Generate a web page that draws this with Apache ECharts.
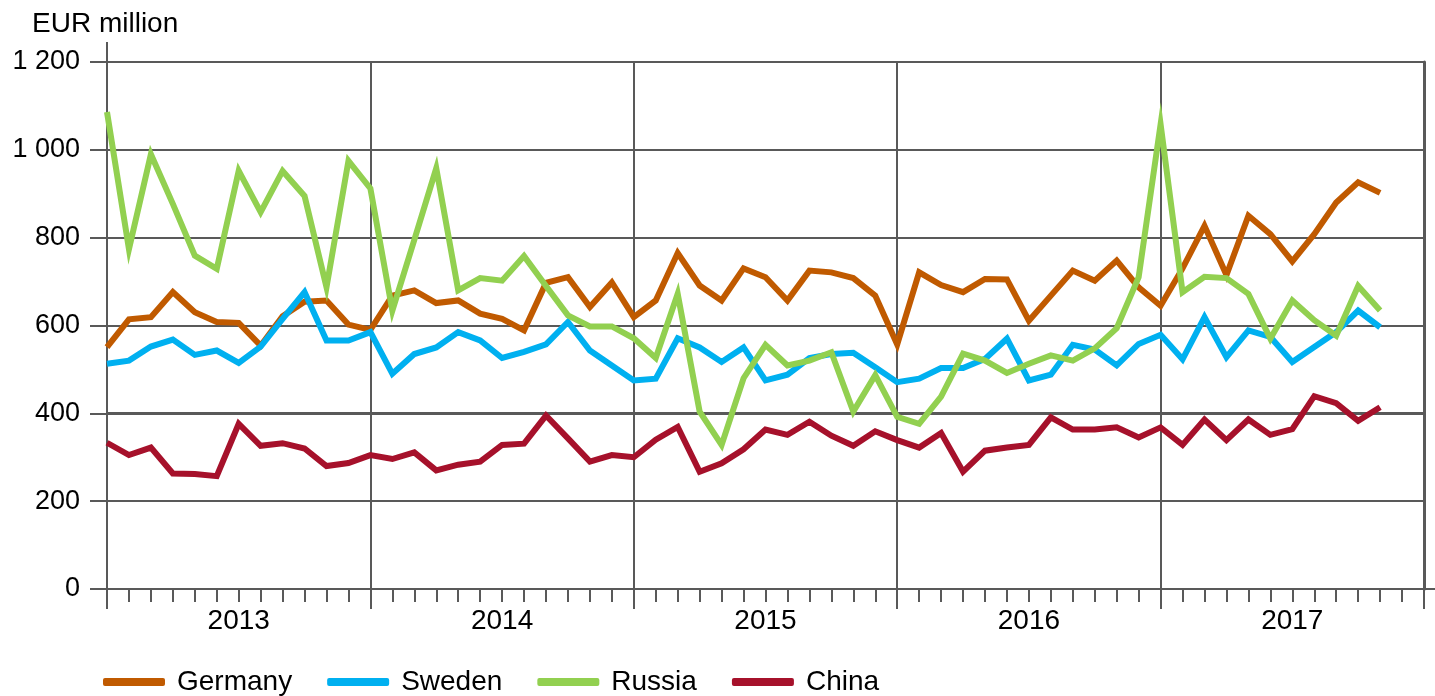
<!DOCTYPE html>
<html>
<head>
<meta charset="utf-8">
<script src="https://cdn.jsdelivr.net/npm/echarts@6/dist/echarts.min.js"></script>
<style>
html,body{margin:0;padding:0;background:#fff;}
#chart{width:1435px;height:696px;}
</style>
</head>
<body>
<div id="chart"></div>
<script>
// Monthly values, Jan 2013 .. Nov 2017 (EUR million)
const years = ['2013', '2014', '2015', '2016', '2017'];
const seriesNames = ['Germany', 'Sweden', 'Russia', 'China'];
const germany = [551,614,619,676,630,608,606,554,621,654,657,602,590,
  668,680,651,657,627,615,589,697,710,642,698,619,657,
  765,691,657,730,710,657,725,721,708,668,557,
  721,692,676,706,705,611,668,725,702,748,687,645,
  730,827,715,850,808,746,808,880,926,902];
const sweden = [513,520,552,568,533,543,515,552,615,676,566,566,585,
  490,535,550,585,566,526,540,557,608,543,509,475,479,
  571,550,517,550,475,488,526,535,538,505,471,
  479,503,503,524,570,475,488,556,545,509,558,579,
  523,619,528,589,574,517,551,585,634,596];
const russia = [1086,774,990,877,759,729,952,858,952,895,687,975,912,
  634,795,958,680,708,702,758,690,623,598,598,571,526,
  672,404,328,480,556,509,520,539,404,487,392,
  376,438,536,520,492,513,532,520,548,594,710,1058,
  676,711,708,672,570,657,612,577,690,634];
const china = [333,305,322,263,262,257,376,326,332,320,280,287,305,
  296,311,270,283,290,328,331,395,343,290,305,300,340,
  369,267,286,318,363,351,381,349,326,359,339,
  322,355,267,315,322,328,391,363,363,368,345,368,
  328,386,339,386,351,364,439,423,383,414];
const yTicks = [0, 200, 400, 600, 800, 1000, 1200];
const colors = ['#c05a00', '#00b0f0', '#92d050', '#a6112b'];

const FONT = '"Liberation Sans", Arial, sans-serif';
const AX = '#595959';
const toPairs = arr => arr.map((v, i) => [i, v]);
const allData = [germany, sweden, russia, china];

const chart = echarts.init(document.getElementById('chart'), null, {renderer: 'canvas'});

const series = seriesNames.map((name, k) => ({
  name: name,
  type: 'line',
  xAxisIndex: 0,
  yAxisIndex: 0,
  data: toPairs(allData[k]),
  showSymbol: false,
  symbol: 'none',
  lineStyle: {color: colors[k], width: 6, join: 'miter'},
  itemStyle: {color: colors[k]},
  z: 3 + k
}));
// thicker 400 gridline
series.push({
  type: 'line', name: '_ref', data: [], xAxisIndex: 0, yAxisIndex: 0, z: 1,
  markLine: {
    silent: true, symbol: 'none', label: {show: false},
    lineStyle: {color: AX, width: 3, type: 'solid'},
    data: [{yAxis: yTicks[2]}]
  }
});

chart.setOption({
  animation: false,
  textStyle: {fontFamily: FONT},
  title: {
    text: 'EUR million', left: 27, top: 5,
    textStyle: {fontFamily: FONT, fontSize: 28, fontWeight: 'normal', color: '#000'}
  },
  grid: {left: 107, right: 11, top: 62, bottom: 107, containLabel: false},
  legend: {
    data: seriesNames,
    left: 98, top: 663,
    icon: 'roundRect',
    itemWidth: 62, itemHeight: 8,
    itemGap: 35,
    textStyle: {fontFamily: FONT, fontSize: 28, color: '#000', padding: [0, 0, 0, 7]}
  },
  xAxis: [{
    type: 'value', min: 0, max: 60, interval: 12, position: 'bottom',
    axisLine: {show: true, onZero: false, lineStyle: {color: AX, width: 2}},
    axisTick: {show: true, length: 20, lineStyle: {color: AX, width: 2}},
    minorTick: {show: true, splitNumber: 12, length: 13, lineStyle: {color: AX, width: 2}},
    axisLabel: {show: false},
    splitLine: {show: true, lineStyle: {color: AX, width: 2}},
    minorSplitLine: {show: false}
  }, {
    type: 'category', data: years, boundaryGap: true, position: 'bottom',
    axisLine: {show: false}, axisTick: {show: false},
    axisLabel: {fontFamily: FONT, fontSize: 28, color: '#000', margin: 18},
    splitLine: {show: false}
  }],
  yAxis: [{
    type: 'value', min: yTicks[0], max: yTicks[yTicks.length - 1], interval: 200,
    axisLine: {show: true, lineStyle: {color: AX, width: 2}},
    axisTick: {show: true, length: 17, lineStyle: {color: AX, width: 2}},
    axisLabel: {
      fontFamily: FONT, fontSize: 27, color: '#000', margin: 27,
      formatter: v => String(v).replace(/\B(?=(\d{3})+(?!\d))/g, ' ')
    },
    splitLine: {show: true, lineStyle: {color: AX, width: 2}}
  }, {
    type: 'value', min: yTicks[0], max: yTicks[yTicks.length - 1], interval: 200, position: 'right',
    axisLine: {show: true, lineStyle: {color: AX, width: 3}},
    axisTick: {show: false}, axisLabel: {show: false}, splitLine: {show: false}
  }],
  series: series
});

// axis-line extensions (left axis above top, bottom axis to the right)
const pTop = chart.convertToPixel({xAxisIndex: 0, yAxisIndex: 0}, [0, yTicks[yTicks.length - 1]]);
const pEnd = chart.convertToPixel({xAxisIndex: 0, yAxisIndex: 0}, [60, 0]);
chart.setOption({
  graphic: [
    {type: 'line', shape: {x1: pTop[0], y1: pTop[1] - 20, x2: pTop[0], y2: pTop[1]},
     style: {stroke: AX, lineWidth: 2}, silent: true},
    {type: 'line', shape: {x1: pEnd[0], y1: pEnd[1], x2: pEnd[0] + 11, y2: pEnd[1]},
     style: {stroke: AX, lineWidth: 2}, silent: true}
  ]
});
</script>
</body>
</html>
